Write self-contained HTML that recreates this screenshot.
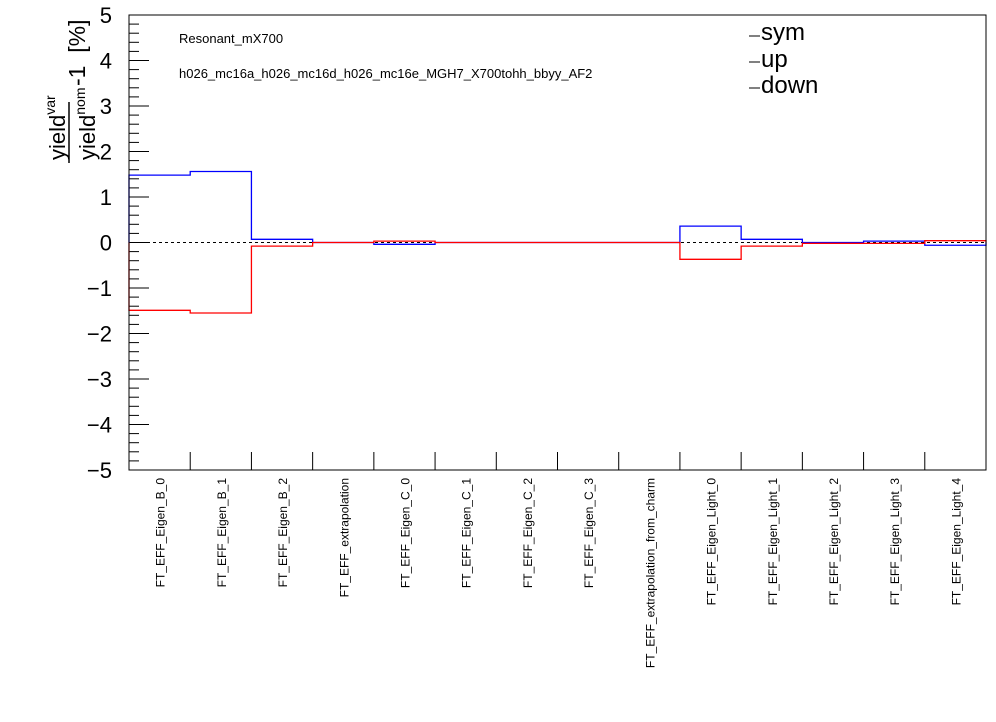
<!DOCTYPE html>
<html><head><meta charset="utf-8"><style>
html,body{margin:0;padding:0;background:#fff;}
svg{display:block;font-family:"Liberation Sans",sans-serif;}
</style></head><body>
<svg id="c" width="996" height="722">
<rect x="0" y="0" width="996" height="722" fill="#fff"/>
<g id="ticks"></g>
<g id="marks"></g>
<rect x="129" y="15" width="857" height="455" fill="none" stroke="#000" stroke-width="1"/>
<g>
  <text transform="translate(65,160) rotate(-90)" font-size="22">yield<tspan font-size="14" dy="-10">var</tspan></text>
  <line x1="69" y1="102" x2="69" y2="163" stroke="#000" stroke-width="1.5"/>
  <text transform="translate(95,160) rotate(-90)" font-size="22">yield<tspan font-size="14" dy="-10">nom</tspan></text>
  <text transform="translate(85,86) rotate(-90)" font-size="23" xml:space="preserve" style="white-space:pre">-1  [%]</text>
</g>
<text x="179" y="43" font-size="13">Resonant_mX700</text>
<text x="179" y="78" font-size="13">h026_mc16a_h026_mc16d_h026_mc16e_MGH7_X700tohh_bbyy_AF2</text>
<g>
  <line x1="749" y1="36" x2="760" y2="36" stroke="#000"/>
  <text x="761" y="40" font-size="24">sym</text>
  <line x1="749" y1="62" x2="760" y2="62" stroke="#000"/>
  <text x="761" y="67" font-size="24">up</text>
  <line x1="749" y1="88" x2="760" y2="88" stroke="#000"/>
  <text x="761" y="93" font-size="24">down</text>
</g>
</svg>
<script>
const categories = ["FT_EFF_Eigen_B_0","FT_EFF_Eigen_B_1","FT_EFF_Eigen_B_2","FT_EFF_extrapolation","FT_EFF_Eigen_C_0","FT_EFF_Eigen_C_1","FT_EFF_Eigen_C_2","FT_EFF_Eigen_C_3","FT_EFF_extrapolation_from_charm","FT_EFF_Eigen_Light_0","FT_EFF_Eigen_Light_1","FT_EFF_Eigen_Light_2","FT_EFF_Eigen_Light_3","FT_EFF_Eigen_Light_4"];
const upValues = [1.48,1.56,0.07,0,-0.04,0,0,0,0,0.36,0.07,0,0.03,-0.06];
const downValues = [-1.49,-1.55,-0.08,0,0.03,0,0,0,0,-0.37,-0.08,-0.02,-0.02,0.04];
const yTicks = [-5,-4,-3,-2,-1,0,1,2,3,4,5];
const yTickLabels = ["\u22125","\u22124","\u22123","\u22122","\u22121","0","1","2","3","4","5"];

const NS="http://www.w3.org/2000/svg";
const X0=129,X1=986,Y0=15,Y1=470,YMIN=-5,YMAX=5;
const bw=(X1-X0)/categories.length;
const xs=i=>X0+i*bw;
const ys=v=>Y1-(v-YMIN)/(YMAX-YMIN)*(Y1-Y0);
function mk(tag,attrs,parent){const e=document.createElementNS(NS,tag);for(const k in attrs)e.setAttribute(k,attrs[k]);parent.appendChild(e);return e;}
const tg=document.getElementById('ticks'), mg=document.getElementById('marks');

for(let v=YMIN;v<=YMAX+1e-9;v+=0.2){
  const major=Math.abs(v-Math.round(v))<1e-6;
  const l=mk('line',{x1:X0,x2:X0+(major?20:10),y1:ys(v),y2:ys(v),stroke:'#000'},tg);
  
  
}
yTicks.forEach((v,i)=>{
  const t=mk('text',{x:112,y:ys(v)+8,'font-size':22,'text-anchor':'end'},tg);
  t.textContent=yTickLabels[i];
  
  
});
categories.forEach((c,i)=>{
  if(i>0){
    const l=mk('line',{x1:xs(i),x2:xs(i),y1:Y1,y2:Y1-18,stroke:'#000'},tg);
    
    
  }
  const cx=xs(i)+bw/2+5;
  const t=mk('text',{transform:`translate(${cx},478) rotate(-90)`,'font-size':12,'text-anchor':'end'},tg);
  t.textContent=c;
  
  
});
const z=mk('line',{x1:X0,x2:X1,y1:ys(0),y2:ys(0),stroke:'#000','stroke-dasharray':'3,3'},mg);



function hist(vals,color,name){
  let d=`M${X0},${ys(0)}`;
  vals.forEach((v,i)=>{d+=` L${xs(i)},${ys(v)} L${xs(i+1)},${ys(v)}`;});
  d+=` L${X1},${ys(0)}`;
  const p=mk('path',{d:d,fill:'none',stroke:color,'stroke-width':1.3},mg);
  
  
}
hist(upValues,'#0000ff','up-histogram');
hist(downValues,'#ff0000','down-histogram');
</script>
</body></html>
